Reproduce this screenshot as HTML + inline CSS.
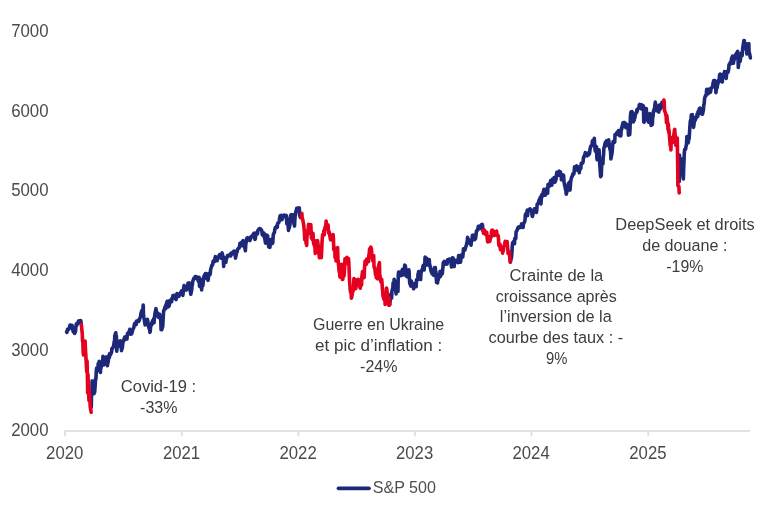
<!DOCTYPE html>
<html><head><meta charset="utf-8"><style>
html,body{margin:0;padding:0;background:#fff;}
body{width:768px;height:513px;overflow:hidden;}
svg{display:block;will-change:transform;}
.ax{font-family:"Liberation Sans",sans-serif;font-size:17.8px;fill:#4a4a4a;}
.an{font-family:"Liberation Sans",sans-serif;font-size:16.8px;fill:#3c3c3c;}
.lg{font-family:"Liberation Sans",sans-serif;font-size:16.6px;fill:#4f4f4f;}
</style></head><body>
<svg width="768" height="513" viewBox="0 0 768 513">
<rect width="768" height="513" fill="#fff"/>
<line x1="64" y1="431" x2="750" y2="431" stroke="#e2e2e2" stroke-width="2"/>
<line x1="65.0" y1="430" x2="65.0" y2="436.3" stroke="#e2e2e2" stroke-width="2"/>
<line x1="181.8" y1="430" x2="181.8" y2="436.3" stroke="#e2e2e2" stroke-width="2"/>
<line x1="298.4" y1="430" x2="298.4" y2="436.3" stroke="#e2e2e2" stroke-width="2"/>
<line x1="414.9" y1="430" x2="414.9" y2="436.3" stroke="#e2e2e2" stroke-width="2"/>
<line x1="531.4" y1="430" x2="531.4" y2="436.3" stroke="#e2e2e2" stroke-width="2"/>
<line x1="648.2" y1="430" x2="648.2" y2="436.3" stroke="#e2e2e2" stroke-width="2"/>

<text x="29.85" y="36.6" text-anchor="middle" textLength="37.4" lengthAdjust="spacingAndGlyphs" class="ax">7000</text>
<text x="29.85" y="116.5" text-anchor="middle" textLength="37.4" lengthAdjust="spacingAndGlyphs" class="ax">6000</text>
<text x="29.85" y="196.4" text-anchor="middle" textLength="37.4" lengthAdjust="spacingAndGlyphs" class="ax">5000</text>
<text x="29.85" y="276.3" text-anchor="middle" textLength="37.4" lengthAdjust="spacingAndGlyphs" class="ax">4000</text>
<text x="29.85" y="356.2" text-anchor="middle" textLength="37.4" lengthAdjust="spacingAndGlyphs" class="ax">3000</text>
<text x="29.85" y="436.1" text-anchor="middle" textLength="37.4" lengthAdjust="spacingAndGlyphs" class="ax">2000</text>

<text x="64.7" y="458.9" text-anchor="middle" textLength="37.2" lengthAdjust="spacingAndGlyphs" class="ax">2020</text>
<text x="181.5" y="458.9" text-anchor="middle" textLength="37.2" lengthAdjust="spacingAndGlyphs" class="ax">2021</text>
<text x="298.1" y="458.9" text-anchor="middle" textLength="37.2" lengthAdjust="spacingAndGlyphs" class="ax">2022</text>
<text x="414.6" y="458.9" text-anchor="middle" textLength="37.2" lengthAdjust="spacingAndGlyphs" class="ax">2023</text>
<text x="531.1" y="458.9" text-anchor="middle" textLength="37.2" lengthAdjust="spacingAndGlyphs" class="ax">2024</text>
<text x="647.9" y="458.9" text-anchor="middle" textLength="37.2" lengthAdjust="spacingAndGlyphs" class="ax">2025</text>

<g transform="matrix(1,0,0,0.99893,0,0.9406)">
<polyline points="66.60,331.10 66.92,331.83 67.23,330.56 67.55,328.82 67.87,329.57 68.83,327.75 69.15,328.15 69.47,327.66 69.79,325.46 70.11,324.43 71.38,325.14 71.70,325.06 72.02,324.76 72.34,327.16 73.30,331.31 73.62,328.70 73.94,328.93 74.26,328.11 74.58,332.76 75.53,330.89 75.85,326.99 76.17,324.02 76.49,323.14 76.81,324.58 77.77,322.63 78.09,322.18 78.41,320.44 78.73,320.88 79.05,320.39 80.32,321.18 80.64,319.91 80.96,320.94 81.28,323.78" fill="none" stroke="#1e2878" stroke-width="3.6" stroke-linejoin="round" stroke-linecap="round"/>
<polyline points="91.28,406.77 91.50,395.01 91.82,392.76 92.13,380.39 92.45,387.48 93.41,380.67 93.73,384.03 94.05,393.16 94.37,388.65 94.69,391.71 95.65,377.71 95.97,378.05 96.28,370.80 96.60,367.61 97.88,369.87 98.20,363.12 98.52,368.13 98.84,366.84 99.16,360.84 100.12,364.95 100.43,371.88 100.75,366.86 101.07,366.98 101.39,363.86 102.35,360.52 102.67,361.73 102.99,355.64 103.31,357.81 103.63,364.34 103.63,364.34 104.58,363.38 104.90,361.32 105.22,362.93 105.54,360.30 105.86,356.42 106.82,356.37 107.14,361.19 107.46,365.20 107.78,362.60 108.10,361.70 109.05,354.49 109.37,356.96 109.69,353.07 110.01,354.92 110.33,354.36 111.61,351.46 111.93,347.91 112.25,348.42 112.57,347.26 113.52,346.34 113.84,344.33 114.16,340.97 114.48,341.81 114.80,335.29 115.76,332.21 116.08,334.23 116.40,335.59 116.72,350.63 117.04,347.50 117.99,345.47 118.31,340.82 118.63,341.72 118.95,341.57 119.27,342.98 120.23,341.37 120.55,340.30 120.87,346.77 121.19,344.10 121.50,350.08 122.46,346.54 122.78,342.78 123.10,341.53 123.42,340.40 124.70,336.42 125.02,339.17 125.34,337.20 125.65,338.64 125.97,336.00 126.93,338.38 127.25,335.00 127.57,332.68 127.89,333.55 128.21,332.82 129.17,330.65 129.49,330.22 129.80,328.72 130.12,331.95 130.44,333.55 131.40,331.65 131.72,333.32 132.04,330.12 132.36,331.10 132.68,329.11 133.64,327.23 133.95,326.28 134.27,324.58 134.59,322.87 134.91,322.70 135.87,321.96 136.19,324.10 136.51,320.37 136.83,320.93 137.15,320.97 138.10,320.24 138.42,319.62 138.74,320.81 139.06,319.96 139.38,319.03 140.34,316.30 140.66,315.31 140.98,312.50 141.30,312.04 141.62,310.16 142.57,310.78 142.89,308.67 143.21,304.33 143.53,314.40 143.85,316.64 145.13,324.25 145.45,318.88 145.77,323.66 146.09,323.52 147.04,320.12 147.36,318.70 147.68,319.96 148.00,322.24 148.32,325.24 149.28,328.32 149.60,325.55 149.92,331.85 150.24,331.07 150.55,326.92 151.51,322.67 151.83,323.96 152.15,321.76 152.47,320.34 152.79,322.93 153.75,318.11 154.07,321.92 154.39,317.24 154.70,315.05 155.02,312.63 155.98,308.06 156.30,309.85 156.62,311.71 156.94,312.13 157.26,312.10 158.22,316.65 158.54,315.35 158.85,315.96 159.17,314.52 159.49,313.57 160.45,318.72 160.77,319.55 161.09,329.12 161.41,325.99 161.73,329.20 162.69,325.98 163.00,321.27 163.32,315.32 163.64,309.96 163.96,310.04 164.92,306.76 165.24,307.16 165.56,304.99 165.88,307.84 166.20,303.99 167.15,300.65 167.47,302.04 167.79,305.38 168.11,304.25 168.43,306.20 169.39,304.59 169.71,299.97 170.03,300.43 170.67,299.73 171.62,301.07 171.94,297.80 172.26,297.28 172.58,297.46 172.90,294.87 173.86,295.44 174.18,294.62 174.50,296.97 174.82,297.35 175.14,297.72 176.09,299.00 176.41,295.23 176.73,294.71 177.05,293.00 177.37,294.05 178.33,295.21 178.65,295.82 178.97,295.60 179.29,294.56 180.56,291.97 180.88,292.64 181.20,292.24 181.52,290.31 182.80,294.75 183.12,292.65 183.44,290.95 183.75,286.50 184.07,284.83 185.03,286.83 185.35,286.70 185.67,286.01 185.99,287.16 186.31,289.34 187.59,286.89 187.90,282.65 188.22,282.55 188.54,283.48 189.50,282.37 189.82,282.83 190.14,290.74 190.46,287.81 190.78,293.66 191.74,288.89 192.05,284.70 192.37,284.39 192.69,281.06 193.01,279.85 193.97,277.55 194.29,277.90 194.61,278.01 194.93,277.49 195.25,276.01 196.52,276.19 196.84,276.29 197.16,277.68 197.48,278.26 198.44,280.68 198.76,280.29 199.08,276.77 199.40,284.45 199.72,285.91 200.67,278.65 200.99,281.18 201.31,285.22 201.63,289.32 201.95,283.44 202.91,285.09 203.23,280.76 203.55,278.90 203.87,275.65 204.19,275.33 205.14,273.28 205.46,273.78 205.78,272.87 206.10,277.56 206.42,277.75 207.38,275.55 207.70,277.96 208.02,279.67 208.34,278.04 208.66,272.84 209.61,273.11 209.93,274.12 210.25,272.97 210.57,269.21 211.85,264.57 212.17,264.88 212.49,264.40 212.81,263.03 213.12,260.50 214.08,260.56 214.40,259.47 214.72,260.83 215.04,257.17 215.36,255.96 216.32,257.74 216.64,260.00 216.96,256.93 217.27,260.00 217.59,256.39 218.55,255.79 218.87,255.86 219.19,256.15 219.51,253.88 219.83,256.31 220.79,255.39 221.11,257.63 221.42,257.39 221.74,254.67 222.06,252.19 223.02,255.73 223.34,258.63 223.66,265.76 223.98,261.80 224.30,256.89 225.26,257.74 225.57,260.57 225.89,261.55 226.21,258.07 226.53,258.33 227.49,255.04 227.81,255.75 228.13,255.12 228.45,254.73 228.77,254.47 230.04,254.64 230.36,254.15 230.68,255.37 231.00,252.41 231.96,252.68 232.28,252.62 232.60,253.24 232.92,251.67 233.24,251.00 234.19,250.39 234.51,251.07 234.83,252.90 235.15,253.05 235.47,257.48 236.43,252.82 236.75,251.08 237.07,251.45 237.39,249.48 237.71,248.34 238.66,247.55 238.98,247.46 239.30,247.00 239.62,245.20 239.94,242.61 241.22,243.32 241.54,242.15 241.86,245.13 242.17,241.24 243.13,240.03 243.45,241.26 243.77,240.86 244.09,242.00 244.41,244.63 245.37,250.12 245.69,244.96 246.01,242.10 246.32,241.40 246.64,237.86 247.60,237.02 247.92,238.68 248.24,238.75 248.56,237.27 248.88,239.18 249.84,239.83 250.16,236.95 250.47,238.59 250.79,236.47 251.11,235.88 252.07,236.21 252.39,235.86 252.71,234.98 253.03,233.93 253.35,233.36 254.31,232.42 254.62,234.95 254.94,238.78 255.26,238.34 255.58,235.47 256.54,232.44 256.86,231.90 257.18,231.10 257.50,233.20 257.82,230.05 258.77,228.50 259.09,228.99 259.41,228.87 259.73,227.84 260.05,227.97 261.33,229.20 261.65,229.67 261.97,231.34 262.29,234.11 263.24,233.30 263.56,235.36 263.88,232.34 264.20,232.90 264.52,236.16 265.48,242.18 265.80,242.46 266.12,239.15 266.44,234.88 266.76,234.36 267.71,235.35 268.03,242.59 268.35,242.04 268.67,246.20 268.99,242.24 269.95,246.76 270.27,243.14 270.59,241.72 270.91,238.82 271.22,239.49 272.18,241.90 272.50,242.75 272.82,241.70 273.14,235.74 273.46,233.09 274.42,231.88 274.74,229.23 275.06,227.90 275.37,226.82 275.69,227.21 276.65,225.48 276.97,224.82 277.29,226.67 277.61,223.09 277.93,222.37 278.89,221.71 279.21,220.35 279.52,217.95 279.84,216.40 280.16,215.00 281.12,214.66 281.44,215.98 281.76,219.06 282.08,218.86 282.40,216.17 283.36,216.18 283.67,214.73 283.99,215.71 284.31,214.44 284.63,214.96 285.59,216.16 285.91,215.54 286.23,214.68 286.87,223.23 287.82,218.38 288.14,225.44 288.46,229.76 288.78,224.63 289.10,227.73 290.06,223.47 290.38,215.86 290.70,214.70 291.02,217.40 291.34,213.84 292.29,217.28 292.61,220.07 292.93,214.01 293.25,217.31 293.57,221.15 294.53,225.36 294.85,218.86 295.17,215.08 295.49,212.74 296.76,207.50 297.08,207.89 297.40,207.36 297.72,208.50 298.04,209.51 299.00,207.08 299.32,207.32 299.64,214.75 299.96,215.12 300.28,216.64" fill="none" stroke="#1e2878" stroke-width="3.6" stroke-linejoin="round" stroke-linecap="round"/>
<polyline points="389.02,304.64 389.34,297.21 389.66,304.15 390.62,296.56 390.94,293.20 391.26,295.19 391.58,297.54 391.90,290.58 392.85,287.01 393.17,282.07 393.49,284.35 393.81,286.22 394.13,278.72 395.09,281.04 395.41,282.31 395.73,290.02 396.05,293.21 396.36,289.16 397.32,286.26 397.64,284.55 397.96,290.91 398.28,274.29 398.60,271.37 399.56,274.22 399.88,271.46 400.20,274.10 400.51,275.08 400.83,273.57 401.79,274.80 402.11,270.51 402.43,268.62 403.07,268.71 404.03,273.68 404.35,274.19 404.66,264.39 404.98,264.67 405.30,265.06 406.26,270.89 406.58,275.50 406.90,276.09 407.22,273.72 407.54,276.05 408.50,271.56 408.81,269.23 409.13,271.17 409.45,279.14 409.77,282.61 410.73,285.39 411.05,285.07 411.37,280.52 411.69,285.01 412.01,283.21 413.28,284.46 413.60,288.14 413.92,282.86 414.24,283.64 415.52,284.87 415.84,282.56 416.16,286.15 416.48,279.19 417.43,279.43 417.75,277.26 418.07,273.23 418.39,272.15 418.71,270.87 419.99,271.52 420.31,276.49 420.63,278.89 420.95,272.99 421.90,269.22 422.22,269.44 422.54,269.50 422.86,265.97 423.18,265.06 424.14,269.38 424.46,264.67 424.78,261.26 425.10,256.42 425.41,259.88 426.37,261.91 426.69,257.68 427.01,261.37 427.33,264.28 427.65,263.56 428.61,259.82 428.93,259.91 429.25,258.99 429.56,263.57 429.88,264.47 431.16,271.01 431.48,271.52 431.80,269.81 432.12,273.20 433.08,272.22 433.40,273.19 433.71,274.69 434.03,272.29 434.35,267.15 435.31,266.93 435.63,271.89 435.95,271.44 436.27,277.33 436.59,281.87 437.55,282.34 437.86,277.26 438.18,279.45 438.50,273.98 438.82,277.47 439.78,274.67 440.10,270.57 440.42,275.84 440.74,274.90 441.06,273.12 442.01,272.60 442.33,273.10 442.65,268.58 442.97,266.73 443.29,262.06 444.25,260.84 444.57,262.75 444.89,263.57 445.21,262.40 446.48,262.07 446.80,262.08 447.12,263.44 447.44,259.10 447.76,259.79 448.72,258.69 449.04,258.41 449.36,258.44 449.68,260.42 450.00,260.12 450.95,259.84 451.27,265.07 451.59,266.32 451.91,259.97 452.23,257.24 453.19,257.37 453.51,261.23 453.83,263.54 454.15,265.90 454.46,259.90 455.42,259.75 455.74,261.27 456.06,259.79 456.38,260.35 456.70,260.87 457.66,259.90 457.98,262.01 458.30,258.10 458.61,254.96 458.93,255.44 459.89,255.39 460.21,259.15 460.53,261.58 460.85,258.70 461.17,254.36 462.45,254.36 462.76,256.41 463.08,253.12 463.40,248.21 464.36,248.90 464.68,248.09 465.00,249.40 465.32,247.29 465.64,246.89 466.60,243.69 466.91,241.28 467.23,240.99 467.55,236.73 467.87,238.03 469.15,239.70 469.47,241.54 469.79,240.25 470.11,242.93 471.06,244.49 471.38,240.53 471.70,240.65 472.02,239.08 472.34,234.77 473.30,234.35 473.94,235.05 474.26,237.87 474.58,238.88 475.53,238.04 475.85,235.66 476.17,233.03 476.49,230.00 476.81,230.37 477.77,228.98 478.09,226.40 478.41,225.54 478.73,228.01 479.05,227.89 480.00,226.43 480.32,225.40 480.64,225.46 480.96,227.81 481.28,224.22 482.24,223.68 482.56,224.66 482.88,229.73" fill="none" stroke="#1e2878" stroke-width="3.6" stroke-linejoin="round" stroke-linecap="round"/>
<polyline points="510.33,261.41 511.29,257.45 511.61,255.30 511.93,251.77 512.25,245.38 512.57,242.13 513.52,241.52 513.84,240.53 514.16,240.18 514.48,243.01 514.80,237.58 515.76,237.88 516.08,231.14 516.40,230.57 516.72,230.14 517.03,229.68 517.99,227.01 518.31,227.74 518.63,226.27 519.27,226.05 520.23,226.41 520.55,226.77 520.87,226.43 521.18,225.38 521.50,223.23 522.46,225.22 522.78,225.43 523.10,226.85 523.42,223.95 523.74,222.45 524.70,221.00 525.02,219.30 525.33,214.23 525.65,213.24 525.97,213.26 526.93,211.56 527.25,209.33 527.57,214.93 527.89,211.06 528.21,210.43 529.48,208.82 529.80,208.27 530.12,208.13 530.44,209.21 531.72,211.37 532.04,214.42 532.36,215.71 532.68,215.02 533.63,209.72 533.95,210.28 534.27,208.12 534.59,208.38 534.91,208.09 536.19,209.52 536.51,211.66 536.83,208.32 537.15,203.62 538.10,202.77 538.42,201.63 538.74,201.32 539.06,199.27 539.38,199.52 540.34,196.57 540.66,196.80 540.98,203.15 541.30,198.30 541.62,194.11 542.57,195.38 542.89,194.46 543.21,191.20 543.53,190.97 543.85,188.67 544.81,189.05 545.13,194.55 545.45,190.75 545.77,188.42 546.08,190.35 547.36,192.76 547.68,192.26 548.00,183.84 548.32,183.70 549.28,185.24 549.60,184.55 549.92,185.22 550.23,183.10 550.55,179.83 551.51,180.32 551.83,184.51 552.15,182.42 552.47,178.21 552.79,180.90 553.75,181.36 554.07,176.78 554.38,177.58 554.70,178.76 555.02,181.43 555.98,178.85 556.30,176.52 556.62,172.83 556.94,171.48 557.26,172.07 558.22,173.34 558.53,174.51 558.85,170.92 559.17,170.45 560.45,171.30 560.77,174.34 561.09,173.88 561.41,179.02 561.73,174.45 562.68,174.61 563.00,174.01 563.32,177.95 563.64,174.88 563.96,180.93 564.92,185.85 565.24,186.69 565.56,189.02 565.88,189.91 566.20,193.42 567.15,189.95 567.47,185.16 567.79,185.07 568.11,186.93 568.43,182.80 569.39,181.51 569.71,187.94 570.03,189.33 570.35,185.66 570.67,180.58 571.62,176.34 571.94,175.78 572.26,175.79 572.58,173.67 572.90,172.99 573.86,173.09 574.18,171.07 574.50,166.15 574.82,167.03 575.13,166.24 576.09,166.54 576.41,166.15 576.73,165.09 577.05,169.37 577.37,166.42 578.65,166.32 578.97,169.44 579.29,171.96 579.60,168.60 580.56,168.13 580.88,167.49 581.20,162.48 581.52,162.56 581.84,163.04 582.80,161.94 583.12,160.77 583.44,157.12 583.75,156.10 584.07,156.27 585.03,152.94 585.35,151.84 585.99,152.95 586.31,153.63 587.27,154.97 587.59,153.26 587.90,152.57 588.22,152.17 588.54,153.96 589.50,152.79 589.82,150.08 590.14,147.84 590.78,145.42 591.74,144.97 592.05,144.64 592.37,140.09 592.69,144.04 593.01,141.57 593.97,140.30 594.29,137.42 594.61,143.74 594.93,147.23 595.25,150.40 596.20,145.65 596.52,146.34 596.84,156.63 597.16,158.86 597.48,154.07 598.44,153.72 598.76,155.88 599.08,149.02 599.40,155.07 599.72,163.08 600.67,175.89 600.99,171.60 601.31,174.84 601.63,165.26 601.95,163.27 602.91,163.25 603.23,156.05 603.55,154.38 603.87,147.34 604.19,146.46 605.14,142.14 605.46,143.03 605.78,141.13 606.10,145.15 606.42,140.03 607.38,141.45 607.70,140.74 608.02,143.43 608.34,143.44 608.65,138.93 609.93,148.49 610.25,149.19 610.57,150.53 610.89,158.13 611.85,153.12 612.17,151.16 612.49,146.47 612.80,143.14 613.12,140.72 614.08,140.15 614.40,140.03 614.72,141.34 615.04,133.71 615.36,134.60 616.32,133.31 616.64,132.17 616.95,133.02 617.27,131.17 617.59,131.75 618.55,129.80 618.87,134.10 619.19,134.04 619.51,134.80 619.83,130.71 620.79,135.12 621.10,130.71 621.42,127.44 621.74,128.40 622.06,125.60 623.02,122.01 623.34,125.58 623.66,123.40 623.98,123.48 624.30,121.63 625.25,122.48 625.57,122.70 625.89,127.01 626.21,126.01 626.53,126.15 627.49,124.92 627.81,124.17 628.13,125.71 628.45,134.36 628.77,132.50 629.72,133.78 630.04,128.18 630.36,116.48 630.68,112.95 631.00,111.16 631.96,110.69 632.28,112.08 632.60,111.97 632.92,114.87 633.24,121.15 634.19,119.31 634.51,117.44 634.83,117.43 635.15,114.90 635.47,113.25 636.43,111.81 636.75,109.07 637.07,110.90 637.70,108.21 638.66,107.03 638.98,106.81 639.30,103.88 639.62,104.79 639.94,103.58 640.90,106.57 641.22,108.01 641.54,104.06 641.85,106.71 642.17,106.70 643.13,104.87 643.45,106.75 643.77,121.03 644.09,121.43 644.41,116.33 645.37,112.87 645.69,107.60 646.32,107.79 646.64,113.13 647.60,118.24 647.92,120.27 648.56,121.32 648.88,115.40 649.84,112.77 650.15,118.08 650.47,117.34 651.11,124.64 652.07,123.90 652.39,123.37 652.71,114.81 653.03,115.81 653.35,111.07 654.62,106.86 654.94,103.89 655.26,101.30 655.58,102.70 656.54,109.82 656.86,105.38 657.18,107.66 657.50,105.11 657.82,107.56 658.77,111.23 659.09,107.77 659.41,105.88 659.73,104.11 660.05,108.72 661.01,105.48 661.33,105.32 661.65,106.64 661.97,101.59 662.29,101.63 663.56,100.43" fill="none" stroke="#1e2878" stroke-width="3.6" stroke-linejoin="round" stroke-linecap="round"/>
<polyline points="679.30,180.80 679.52,154.25 679.84,169.36 680.16,161.73 681.12,158.32 681.44,159.07 681.76,168.74 682.08,168.18 683.36,178.14 683.67,167.78 683.99,160.73 684.31,152.02 684.63,148.78 685.59,148.50 685.91,145.93 686.23,145.28 686.55,142.47 686.87,135.87 687.82,138.77 688.14,142.25 688.46,140.30 688.78,137.68 689.10,138.01 690.06,123.26 690.38,119.88 690.70,119.39 691.02,117.45 691.34,114.13 692.29,113.71 692.61,115.56 692.93,123.23 693.25,123.44 693.57,126.57 694.85,117.08 695.17,119.72 695.49,117.83 695.81,117.86 696.76,115.92 697.08,113.17 697.40,113.14 697.72,115.66 698.04,110.77 699.00,110.33 699.32,107.70 699.64,109.02 699.96,107.18 700.27,112.64 701.23,108.15 701.55,112.18 701.87,112.33 702.51,113.37 703.47,108.79 703.79,103.43 704.11,103.43 704.42,99.52 704.74,96.95 705.70,94.40 706.02,94.96 706.34,92.61 706.66,88.45 707.94,92.40 708.26,92.76 708.57,89.74 708.89,88.36 709.21,90.02 710.17,89.32 710.49,91.30 710.81,89.70 711.13,87.01 711.45,87.06 712.41,86.35 712.72,86.03 713.04,82.09 713.36,81.73 713.68,79.71 714.64,79.62 714.96,81.13 715.28,81.77 715.60,83.65 715.92,91.76 716.87,84.40 717.19,86.86 717.51,83.20 717.83,83.60 718.15,79.64 719.11,80.92 719.43,75.14 719.75,73.47 720.07,73.32 720.39,74.82 721.34,74.87 721.66,77.89 721.98,79.14 722.30,81.19 722.62,73.45 723.58,75.65 723.90,73.52 724.22,72.29 724.54,70.65 724.86,73.98 726.13,77.56 726.45,74.94 726.77,70.63 727.09,72.28 728.05,71.19 728.37,69.79 728.69,68.24 729.01,63.80 729.32,64.06 730.28,61.58 730.60,62.26 730.92,62.77 731.24,60.24 731.56,57.65 732.52,55.30 732.84,58.25 733.16,59.76 733.47,62.42 733.79,59.30 734.75,57.90 735.07,55.72 735.39,53.90 735.71,53.57 736.03,53.54 736.99,51.58 737.31,53.63 737.62,50.50 737.94,51.99 738.26,66.60 739.22,58.42 739.54,59.26 739.86,57.12 740.18,60.47 740.50,57.68 741.46,51.97 741.77,51.99 742.09,54.85 742.41,51.72 742.73,47.46 743.69,40.79 744.01,39.53 744.33,39.55 744.65,45.01 744.97,43.58 745.92,42.64 746.24,49.08 746.56,47.10 746.88,53.17 747.20,52.50 748.16,44.21 748.48,43.07 748.80,42.73 749.12,51.80 749.44,52.07 750.39,57.01" fill="none" stroke="#1e2878" stroke-width="3.6" stroke-linejoin="round" stroke-linecap="round"/>
<polyline points="81.28,323.78 82.24,332.73 82.56,340.54 82.88,341.49 83.20,352.50 83.52,354.46 84.47,343.58 84.79,350.53 85.11,340.39 85.43,348.88 85.75,353.01 86.71,371.08 87.03,360.22 87.35,371.49 87.67,392.35 87.98,373.92 88.94,399.91 89.26,388.46 89.58,398.95 89.90,398.05 90.22,406.41 91.18,411.81" fill="none" stroke="#e4001e" stroke-width="3.6" stroke-linejoin="round" stroke-linecap="round"/>
<polyline points="301.23,217.18 301.55,213.75 301.87,212.69 302.19,218.08 302.51,217.77 303.79,224.63 304.11,228.18 304.43,232.18 304.74,238.96 305.70,237.99 306.02,242.28 306.34,242.81 306.66,244.68 306.98,236.25 307.94,229.56 308.26,227.08 308.58,223.65 308.89,232.60 309.21,230.76 310.17,232.09 310.49,229.08 310.81,223.83 311.13,230.47 311.45,237.31 312.41,238.67 312.73,233.11 313.04,232.80 313.36,240.38 313.68,242.89 314.96,246.42 315.28,252.76 315.60,247.70 315.92,240.03 316.88,240.88 317.19,246.30 317.51,239.88 317.83,241.72 318.15,244.49 319.11,254.71 319.43,257.14 319.75,248.57 320.07,250.04 320.39,254.46 321.34,256.95 321.66,249.80 321.98,242.17 322.30,237.87 322.62,233.75 323.58,233.91 323.90,229.87 324.22,234.30 324.54,229.19 324.86,227.36 325.81,224.76 326.13,220.27 326.45,222.60 326.77,228.37 327.09,227.13 328.05,224.19 328.37,228.79 328.69,232.31 329.01,230.78 329.33,231.74 330.28,237.80 330.60,239.00 330.92,235.07 331.24,239.39 332.52,239.46 332.84,233.82 333.16,234.04 333.48,239.31 333.79,249.06 334.75,247.11 335.07,256.78 335.39,256.08 335.71,247.80 336.03,260.25 336.99,258.37 337.31,256.76 337.63,246.79 337.94,259.05 338.26,260.93 339.22,271.50 339.54,270.72 339.86,275.99 340.18,276.39 340.50,268.89 341.46,270.16 341.78,263.69 342.09,276.91 342.41,278.74 342.73,278.69 343.69,272.90 344.01,275.48 344.33,272.50 344.65,266.17 344.97,258.14 346.24,260.23 346.56,262.70 346.88,256.65 347.20,262.12 348.16,261.09 348.48,257.95 348.80,261.54 349.12,269.37 349.44,278.73 350.39,290.83 350.71,291.96 351.03,287.60 351.35,297.46 351.67,296.81 352.95,289.62 353.27,290.01 353.59,287.14 353.91,277.86 354.86,278.79 355.18,285.08 355.50,285.29 355.82,287.97 356.14,284.77 357.42,284.29 357.74,283.19 358.06,278.59 358.38,278.85 359.33,282.45 359.65,285.30 359.97,286.66 360.29,287.57 360.61,281.75 361.57,284.33 361.89,275.86 362.21,274.01 362.53,270.88 362.84,273.87 363.80,273.45 364.12,277.12 364.44,268.91 364.76,265.01 365.08,260.38 366.04,261.31 366.36,263.50 366.68,258.39 366.99,258.64 367.31,259.18 368.27,259.60 368.59,261.00 368.91,253.98 369.23,254.22 369.55,248.39 370.51,247.03 370.83,246.38 371.14,248.88 371.46,248.10 371.78,252.52 372.74,259.76 373.06,260.50 373.38,259.54 373.70,254.87 374.02,266.19 374.98,268.35 375.29,271.91 375.61,274.40 375.93,273.45 376.25,276.86 377.53,278.14 377.85,272.41 378.17,270.31 378.49,265.41 379.44,261.97 379.76,276.18 380.08,275.12 380.40,278.69 380.72,280.93 381.68,278.81 382.00,282.33 382.32,287.61 382.64,290.16 382.96,295.34 383.91,298.40 384.23,299.02 384.55,293.28 384.87,299.56 385.19,303.95 386.15,296.53 386.47,287.53 386.79,288.14 387.11,291.24 387.43,299.63 388.38,301.81 388.70,303.69 389.02,304.64 389.34,297.21 389.66,304.15" fill="none" stroke="#e4001e" stroke-width="3.6" stroke-linejoin="round" stroke-linecap="round"/>
<polyline points="482.88,229.73 483.20,230.65 483.51,232.56 484.47,229.32 484.79,230.85 485.11,233.38 485.43,233.29 485.75,233.68 486.71,231.62 487.03,235.77 487.35,238.45 487.67,241.17 487.98,241.22 488.94,238.82 489.26,239.80 489.58,235.92 489.90,240.70 490.22,238.34 491.18,236.14 491.50,230.99 491.82,229.61 492.13,230.19 492.45,229.54 493.73,231.05 494.05,233.56 494.37,234.71 494.69,234.20 495.65,231.80 495.97,233.85 496.28,233.40 496.60,230.39 496.92,234.77 497.88,234.52 498.20,235.28 498.52,238.62 498.84,244.40 499.16,245.20 500.12,243.80 500.43,248.92 500.75,248.84 501.07,246.82 501.39,247.76 502.35,247.73 502.67,252.44 502.99,249.70 503.31,250.14 503.63,246.12 504.58,243.95 504.90,242.14 505.22,240.64 505.54,242.83 505.86,244.58 506.82,240.91 507.14,240.94 507.46,245.63 507.78,248.56 508.10,252.87 509.05,253.44 509.37,250.99 509.69,255.86 510.01,259.82 510.33,261.41" fill="none" stroke="#e4001e" stroke-width="3.6" stroke-linejoin="round" stroke-linecap="round"/>
<polyline points="663.56,100.43 663.88,99.27 664.20,101.40 664.52,109.75 665.48,112.14 665.80,114.38 666.12,114.32 666.44,121.87 666.75,114.44 667.71,122.82 668.03,128.55 668.35,123.39 668.67,131.72 668.99,129.18 669.95,141.64 670.27,145.03 670.59,142.86 670.90,149.08 671.22,139.68 672.18,136.79 672.50,141.63 672.82,136.78 673.14,137.77 673.46,137.40 674.42,129.39 674.74,128.67 675.06,133.82 675.37,135.34 675.69,144.32 676.65,141.85 676.97,140.15 677.29,137.12 677.61,159.08 677.93,184.87 678.89,185.82 679.21,192.18" fill="none" stroke="#e4001e" stroke-width="3.6" stroke-linejoin="round" stroke-linecap="round"/>
</g>
<text x="158.4" y="391.9" text-anchor="middle" textLength="75.2" lengthAdjust="spacingAndGlyphs" class="an">Covid-19 :</text>
<text x="158.8" y="412.6" text-anchor="middle" textLength="37.4" lengthAdjust="spacingAndGlyphs" class="an">-33%</text>
<text x="378.6" y="330.2" text-anchor="middle" textLength="131.2" lengthAdjust="spacingAndGlyphs" class="an">Guerre en Ukraine</text>
<text x="378.6" y="350.9" text-anchor="middle" textLength="127.1" lengthAdjust="spacingAndGlyphs" class="an">et pic d’inflation :</text>
<text x="378.8" y="371.6" text-anchor="middle" textLength="37.4" lengthAdjust="spacingAndGlyphs" class="an">-24%</text>
<text x="556.4" y="280.8" text-anchor="middle" textLength="93.7" lengthAdjust="spacingAndGlyphs" class="an">Crainte de la</text>
<text x="556.2" y="301.5" text-anchor="middle" textLength="121.1" lengthAdjust="spacingAndGlyphs" class="an">croissance après</text>
<text x="555.8" y="322.2" text-anchor="middle" textLength="111.9" lengthAdjust="spacingAndGlyphs" class="an">l’inversion de la</text>
<text x="555.8" y="343.0" text-anchor="middle" textLength="134.6" lengthAdjust="spacingAndGlyphs" class="an">courbe des taux : -</text>
<text x="556.7" y="363.7" text-anchor="middle" textLength="21.4" lengthAdjust="spacingAndGlyphs" class="an">9%</text>
<text x="685.0" y="230.2" text-anchor="middle" textLength="139.4" lengthAdjust="spacingAndGlyphs" class="an">DeepSeek et droits</text>
<text x="684.8" y="250.9" text-anchor="middle" textLength="85.2" lengthAdjust="spacingAndGlyphs" class="an">de douane :</text>
<text x="684.8" y="271.6" text-anchor="middle" textLength="37.1" lengthAdjust="spacingAndGlyphs" class="an">-19%</text>

<line x1="338.5" y1="488.3" x2="369" y2="488.3" stroke="#1e2878" stroke-width="3.7" stroke-linecap="round"/>
<text x="372.7" y="493.2" textLength="63.2" lengthAdjust="spacingAndGlyphs" class="lg">S&amp;P 500</text>
</svg>
</body></html>
